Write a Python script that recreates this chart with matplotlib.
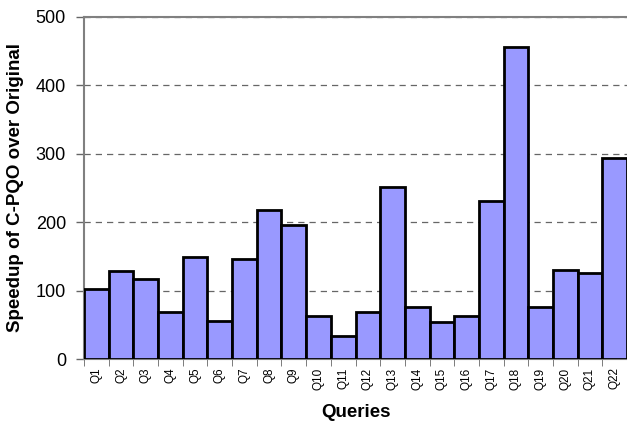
import numpy as np
import matplotlib
matplotlib.use("Agg")
import matplotlib.pyplot as plt

# datos
queries = ["Q%d" % i for i in range(1, 23)]
speedup = [102, 129, 117, 69, 149, 56, 146, 218, 196, 63, 34,
           69, 251, 76, 54, 63, 231, 456, 76, 130, 126, 294]

plt.rcParams["font.family"] = ["Liberation Sans", "DejaVu Sans"]

fig = plt.figure(figsize=(6.27, 4.21), dpi=100)
ax = fig.add_axes([0.134, 0.147, 0.866, 0.813])

x = np.arange(len(queries))
ax.bar(x, speedup, width=1.0, color="#9999FF", edgecolor="black",
       linewidth=2, zorder=3)

ax.set_xlim(-0.5, len(queries) - 0.5)
ax.set_ylim(0, 500)
ax.set_yticks([0, 100, 200, 300, 400, 500])
ax.yaxis.grid(True, linestyle=(0, (5, 4)), color="#666666", linewidth=0.9, zorder=0)

ax.set_xticks(x)
ax.set_xticklabels(queries, rotation=90, fontsize=8.5)
ax.set_xticks(np.arange(-0.5, len(queries)), minor=True)
ax.tick_params(axis="x", which="major", length=0, pad=6)
ax.tick_params(axis="x", which="minor", length=5, color="#666666")
ax.tick_params(axis="y", length=6, color="#666666", labelsize=13, width=1, pad=7)

for s in ["left", "top"]:
    ax.spines[s].set_color("#808080")
    ax.spines[s].set_linewidth(1.5)
ax.spines["right"].set_visible(False)
ax.spines["bottom"].set_color("#808080")

ax.set_ylabel("Speedup of C-PQO over Original", fontsize=13.5, fontweight="bold")
ax.set_xlabel("Queries", fontsize=13.5, fontweight="bold")
ax.yaxis.set_label_coords(-0.11, 0.5)
ax.xaxis.set_label_coords(0.5, -0.13)

fig.savefig("out.png", dpi=100)
